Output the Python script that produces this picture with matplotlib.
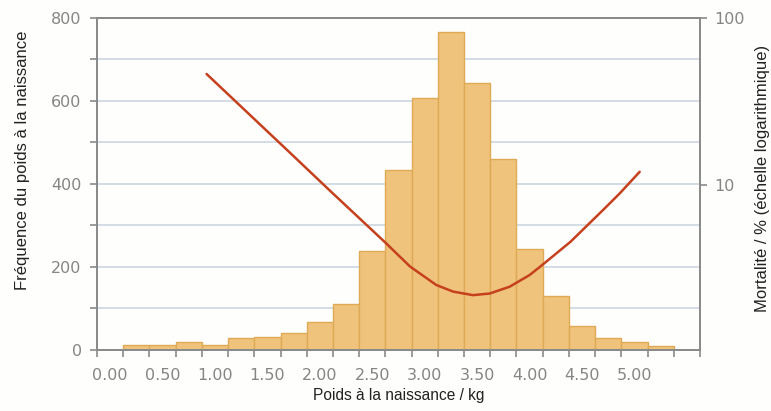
import matplotlib
matplotlib.use("Agg")
import matplotlib.pyplot as plt
from matplotlib.ticker import FixedLocator, NullLocator, FixedFormatter
import numpy as np

# Histogram (birth-weight frequency), bins of 0.25 kg, centres 0.25 .. 5.25
bin_centers = [0.25, 0.50, 0.75, 1.00, 1.25, 1.50, 1.75, 2.00, 2.25, 2.50, 2.75,
               3.00, 3.25, 3.50, 3.75, 4.00, 4.25, 4.50, 4.75, 5.00, 5.25]
frequencies = [10, 10, 18, 12, 28, 31, 39, 66, 109, 238, 433,
               607, 766, 642, 460, 242, 130, 57, 28, 17, 9]

# Mortality curve (%; log scale)
mort_weight = [0.92, 1.30, 1.72, 2.10, 2.48, 2.62, 2.86, 3.11, 3.27, 3.46, 3.62,
               3.81, 4.00, 4.10, 4.39, 4.70, 4.86, 5.05]
mort_pct = [46.2, 27.5, 15.5, 9.2, 5.5, 4.55, 3.25, 2.52, 2.30, 2.19, 2.24,
            2.46, 2.89, 3.24, 4.57, 7.08, 8.91, 12.0]

xtick_values = [0.0, 0.5, 1.0, 1.5, 2.0, 2.5, 3.0, 3.5, 4.0, 4.5, 5.0]
xtick_labels = ["0.00", "0.50", "1.00", "1.50", "2.00", "2.50", "3.00", "3.50",
                "4.00", "4.50", "5.00"]
yticks_left = [0, 200, 400, 600, 800]
yticks_right = [10, 100]
yticks_right_labels = ["10", "100"]

W, H = 771, 411
bg = "#fefefc"
fig = plt.figure(figsize=(W / 100, H / 100), dpi=100, facecolor=bg)
ax = fig.add_axes([97 / W, 1 - 349.5 / H, (700 - 97) / W, (349.5 - 18) / H])
ax.set_facecolor(bg)

grey = "#8a8a8a"
tickc = "#858585"
bw = 0.25

for yv in range(100, 800, 100):
    ax.axhline(yv, color="#d3dde6", lw=1.4, zorder=0)

ax.bar(bin_centers, frequencies, width=bw, color="#efc37c", edgecolor="#deaa55",
       linewidth=1.0, zorder=2)

ax.set_xlim(-0.125, 5.625)
ax.set_ylim(0, 800)

ax.xaxis.set_major_locator(FixedLocator(xtick_values))
ax.xaxis.set_major_formatter(FixedFormatter(xtick_labels))
ax.xaxis.set_minor_locator(FixedLocator(list(np.arange(-0.125, 5.63, 0.25))))
ax.tick_params(axis="x", which="major", length=0, pad=13, labelsize=11.5,
               labelcolor=tickc)
ax.tick_params(axis="x", which="minor", length=5, width=1.2, color=grey)

ax.yaxis.set_major_locator(FixedLocator(yticks_left))
ax.yaxis.set_minor_locator(FixedLocator(list(range(100, 800, 200))))
ax.tick_params(axis="y", which="both", length=5, width=1.2, color=grey,
               labelsize=11.5, labelcolor=tickc, pad=6)

for s in ax.spines.values():
    s.set_color(grey)
    s.set_linewidth(1.3)

ax.set_xlabel("Poids à la naissance / kg", fontsize=11.2, family="Liberation Sans",
              color="#222222", labelpad=4)
ax.set_ylabel("Fréquence du poids à la naissance", fontsize=12,
              family="Liberation Sans", color="#222222")
ax.yaxis.set_label_coords(-0.111, 0.5716)

ax2 = ax.twinx()
ax2.set_yscale("log")
ax2.set_ylim(1.035, 100)
ax2.plot(mort_weight, mort_pct, color="#c5401d", lw=1.8, zorder=5,
         solid_capstyle="round", solid_joinstyle="round")
ax2.yaxis.set_major_locator(FixedLocator(yticks_right))
ax2.yaxis.set_major_formatter(FixedFormatter(yticks_right_labels))
ax2.yaxis.set_minor_locator(NullLocator())
ax2.tick_params(axis="y", which="major", length=5, width=1.2, color=grey,
                labelsize=11.5, labelcolor=tickc, pad=5)
for s in ax2.spines.values():
    s.set_color(grey)
    s.set_linewidth(1.3)
ax2.set_ylabel("Mortalité / % (échelle logarithmique)", fontsize=12,
               family="Liberation Sans", color="#222222")
ax2.yaxis.set_label_coords(1.092, 0.517)

fig.savefig("out.png", dpi=100, facecolor=fig.get_facecolor())
